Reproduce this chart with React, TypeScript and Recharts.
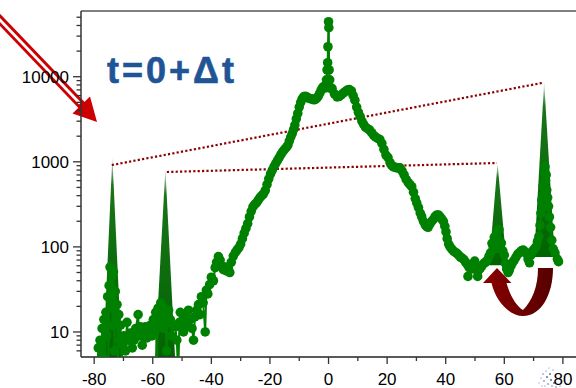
import { ComposedChart, XAxis, YAxis, ZAxis, Scatter, Area, ReferenceLine, Customized } from 'recharts'

// measured profile: angle (deg) vs counts
const scan: [number, number][] = [
  [-79.0, 3], [-78.6, 6.5], [-78.3, 4], [-78.0, 8], [-77.6, 3], [-77.3, 11], [-77.0, 5], [-76.7, 14],
  [-76.4, 3.5], [-76.0, 17], [-75.7, 9], [-75.4, 26], [-75.1, 4], [-74.9, 35], [-74.6, 58], [-74.3, 20],
  [-74.0, 45], [-73.7, 12], [-73.4, 51], [-73.1, 6], [-72.8, 30], [-72.5, 14], [-72.2, 21], [-71.9, 4],
  [-71.6, 16], [-71.3, 8], [-71.0, 12], [-70.6, 4.5], [-70.2, 7], [-69.8, 9], [-69.3, 6], [-68.8, 13],
  [-68.3, 8], [-67.6, 9.7], [-67.0, 6.5], [-66.4, 8], [-65.8, 11], [-65.0, 16], [-64.6, 9], [-64.2, 11.5],
  [-63.6, 7], [-63.0, 10], [-62.5, 11.5], [-62.0, 8.5], [-61.4, 10.5], [-60.8, 12], [-60.3, 9], [-59.8, 14],
  [-59.3, 10], [-59.0, 17], [-58.6, 4], [-58.2, 19], [-57.7, 13], [-57.3, 22], [-57.0, 15], [-56.6, 20],
  [-56.2, 11], [-55.7, 17], [-55.3, 6], [-55.0, 13], [-54.6, 18], [-54.0, 14], [-53.5, 9], [-53.0, 12],
  [-52.3, 11.5], [-51.8, 8], [-51.3, 3], [-50.9, 13], [-50.6, 17], [-50.2, 12], [-49.5, 10], [-49.0, 15],
  [-48.4, 12], [-47.8, 18], [-47.2, 14], [-46.6, 11], [-46.1, 8], [-45.6, 15], [-45.0, 18], [-44.4, 21],
  [-43.9, 16], [-43.4, 26], [-42.8, 22], [-42.1, 10], [-41.7, 31], [-41.2, 28], [-40.6, 36], [-40.0, 44],
  [-39.3, 40], [-38.7, 57], [-38.2, 66], [-37.6, 77], [-37.0, 70], [-36.5, 60], [-35.9, 54], [-35.3, 58],
  [-34.7, 52], [-34.2, 56], [-33.7, 50], [-33.2, 66], [-32.5, 78], [-31.8, 86], [-31.2, 92], [-30.6, 98],
  [-30.0, 108], [-29.4, 125], [-28.8, 145], [-28.2, 165], [-27.6, 188], [-27.0, 225], [-26.4, 262], [-25.8, 295],
  [-25.2, 315], [-24.6, 330], [-24.0, 355], [-23.4, 380], [-22.8, 400], [-22.2, 420], [-21.6, 460], [-21.0, 540],
  [-20.4, 630], [-19.8, 720], [-19.2, 800], [-18.6, 880], [-18.0, 960], [-17.4, 1040], [-16.8, 1130], [-16.2, 1230],
  [-15.6, 1320], [-15.0, 1400], [-14.4, 1480], [-13.9, 1560], [-13.4, 1750], [-12.9, 1950], [-12.4, 2150], [-11.9, 2400],
  [-11.5, 2700], [-11.0, 3200], [-10.5, 3700], [-10.0, 4400], [-9.5, 5000], [-9.0, 5500], [-8.5, 5800], [-8.0, 5900],
  [-7.5, 5800], [-7.0, 5650], [-6.5, 5550], [-6.0, 5500], [-5.5, 5450], [-5.0, 5350], [-4.5, 5400], [-4.0, 5600],
  [-3.5, 5900], [-3.0, 6400], [-2.5, 7000], [-2.0, 7500], [-1.5, 7700], [-1.0, 7400], [-0.7, 9200], [-0.5, 12000],
  [-0.3, 14600], [-0.2, 22500], [0.0, 44300], [0.1, 37700], [0.2, 12000], [0.4, 9200], [0.7, 7300], [1.2, 7300],
  [2.0, 6300], [2.9, 5800], [3.6, 5850], [4.3, 6100], [5.0, 6400], [5.7, 6700], [6.4, 6950], [7.1, 7050],
  [7.8, 6800], [8.4, 6000], [9.0, 5300], [9.6, 4400], [10.2, 3800], [10.8, 3400], [11.4, 3000], [12.0, 2750],
  [12.6, 2550], [13.3, 2450], [14.0, 2370], [14.7, 2200], [15.4, 2050], [16.1, 1950], [16.8, 1880], [17.5, 1830],
  [18.2, 1650], [18.9, 1400], [19.6, 1200], [20.3, 1120], [21.0, 980], [21.6, 900], [22.2, 870], [22.8, 860],
  [23.4, 850], [24.0, 840], [24.4, 850], [25.1, 780], [25.8, 700], [26.5, 620], [27.2, 570], [27.8, 540],
  [28.4, 510], [29.0, 440], [29.6, 370], [30.1, 330], [30.7, 290], [31.3, 250], [31.8, 226], [32.4, 200],
  [33.0, 182], [33.5, 173], [34.0, 170], [34.6, 185], [35.2, 200], [35.8, 210], [36.4, 228], [37.0, 237],
  [37.5, 237], [38.1, 225], [38.7, 212], [39.2, 200], [39.7, 175], [40.1, 150], [40.5, 125], [41.0, 108],
  [41.5, 100], [42.1, 94], [42.7, 89], [43.3, 86], [43.8, 84], [44.4, 80], [45.0, 76], [45.6, 74],
  [46.2, 71], [46.8, 66], [47.4, 62], [47.6, 45], [47.9, 58], [48.3, 57], [48.9, 55], [49.4, 62],
  [49.9, 68], [50.4, 54], [50.9, 45], [51.2, 53], [51.8, 56], [52.4, 60], [53.0, 64], [53.6, 66],
  [54.2, 70], [54.8, 78], [55.3, 85], [55.8, 110], [56.2, 100], [56.6, 130], [57.0, 95], [57.4, 150],
  [57.8, 120], [58.2, 160], [58.6, 105], [59.0, 111], [59.5, 90], [60.0, 80], [60.4, 64], [60.8, 55],
  [61.3, 50], [61.7, 53], [62.3, 60], [62.9, 66], [63.4, 70], [64.0, 76], [64.6, 82], [65.1, 85],
  [65.8, 90], [66.4, 92], [67.0, 88], [67.5, 84], [68.1, 72], [68.6, 65], [69.1, 80], [69.7, 90],
  [70.3, 95], [70.8, 100], [71.3, 115], [71.8, 132], [72.2, 180], [72.5, 250], [72.8, 355], [73.1, 300],
  [73.3, 520], [73.5, 420], [73.7, 740], [73.9, 880], [74.1, 600], [74.3, 700], [74.5, 465], [74.8, 380],
  [75.1, 300], [75.4, 225], [75.8, 170], [76.2, 120], [76.7, 95], [77.3, 85], [78.1, 72], [78.5, 67],
]

// Bragg peak markers: base edges, apex position and height
const peaks = [
  { left: -76.9, apex: -73.8, right: -70.6, base: 5.1, top: 1150 },
  { left: -59.2, apex: -55.7, right: -52.4, base: 5.1, top: 830 },
  { left: 54.8, apex: 57.7, right: 60.8, base: 61, top: 960 },
  { left: 70.2, apex: 73.6, right: 77.2, base: 76, top: 8700 },
]

// dotted guides joining the peak tips
const guides = [
  [{ x: -74.0, y: 916 }, { x: 72.9, y: 8450 }],
  [{ x: -55.2, y: 759 }, { x: 57.5, y: 968 }],
]

const X_MAJOR = [-80, -60, -40, -20, 0, 20, 40, 60, 80]
const X_TICKS = [-80, -70, -60, -50, -40, -30, -20, -10, 0, 10, 20, 30, 40, 50, 60, 70, 80]
const Y_MAJOR = [10, 100, 1000, 10000]
const Y_TICKS = [
  6, 7, 8, 9, 10, 20, 30, 40, 50, 60, 70, 80, 90, 100, 200, 300, 400, 500, 600, 700, 800, 900,
  1000, 2000, 3000, 4000, 5000, 6000, 7000, 8000, 9000, 10000, 20000, 30000, 40000, 50000,
]

// speckle left over around the last tick label
const speckle: [number, number, number][] = [
  [541, 378, 0.6], [543, 374, 0.7], [544, 381, 0.8], [546, 371, 0.6], [547, 377, 0.9], [548, 384, 0.8],
  [549, 368, 0.5], [550, 374, 0.9], [551, 380, 1], [552, 386, 0.7], [545, 386, 0.6], [539, 383, 0.5],
  [553, 370, 0.6], [554, 383, 0.9], [556, 387, 0.7], [558, 384, 0.6], [560, 386, 0.5], [542, 386, 0.5],
]

const FONT = '"Liberation Sans", Arial, sans-serif'

const scanData = scan.map(([x, y]) => ({ x, y }))
const peakData = peaks.map((p) => [
  { x: p.left, r: [p.base, p.base] },
  { x: p.apex, r: [p.base, p.top] },
  { x: p.right, r: [p.base, p.base] },
])

const YTick = (props: any) => {
  const { x, y, payload } = props
  const major = Y_MAJOR.includes(payload.value)
  return (
    <g>
      <line x1={x - (major ? 8 : 4.5)} x2={x} y1={y} y2={y} stroke="#333" strokeWidth={1.3} />
      {major && (
        <text x={x - 12} y={y + 6} textAnchor="end" fontSize={17} fontFamily={FONT} fill="#000">
          {payload.value}
        </text>
      )}
    </g>
  )
}

const XTick = (props: any) => {
  const { x, y, payload } = props
  const major = X_MAJOR.includes(payload.value)
  return (
    <g>
      <line x1={x} x2={x} y1={y} y2={y + (major ? 7 : 4)} stroke="#333" strokeWidth={1.3} />
      {major && (
        <text x={x} y={y + 28} textAnchor="middle" fontSize={17} fontFamily={FONT} fill="#000">
          {payload.value}
        </text>
      )}
    </g>
  )
}

const TopTick = (props: any) => {
  const { x, y } = props
  return <line x1={x} x2={x} y1={y} y2={y + 3.5} stroke="#777" strokeWidth={1.2} />
}

const Annotations = () => (
  <g>
    {/* incoming beam arrow */}
    <line x1={-10} y1={9.5} x2={82} y2={105.5} stroke="#cc0000" strokeWidth={8.5} />
    <line x1={-10} y1={9.5} x2={80} y2={103.5} stroke="#fff" strokeWidth={2.8} />
    <polygon points="97,122 90,96.5 72.5,113.5" fill="#cc0000" />
    <text
      x={107}
      y={83}
      fontSize={36}
      fontWeight="bold"
      fontFamily={FONT}
      fill="#1f5496"
      stroke="#1f5496"
      strokeWidth={0.6}
      letterSpacing={3}
    >
      t=0+Δt
    </text>
    {/* transfer arrow between the right-hand peaks */}
    <path
      d="M538,268 L553,268 C553,295 541,316 523,316 C510,316 496,302 491.5,283 L483,283 L497,268 L511.5,283 L506.5,283 C510,296 517,307 523,310 C532,301 538,287 538,268 Z"
      fill="url(#arrowRed)"
    />
    {speckle.map(([cx, cy, r], i) => (
      <circle key={i} cx={cx} cy={cy} r={r} fill="#1b2f7a" opacity={0.75} />
    ))}
  </g>
)

export default function App() {
  return (
    <div style={{ position: 'absolute', left: 0, top: 0, width: 576, height: 388, overflow: 'hidden', background: '#fff', fontFamily: FONT }}>
      <ComposedChart width={579} height={388} margin={{ top: 10, right: 0, bottom: 0, left: 0 }}>
        <defs>
          <linearGradient id="peakFill" x1="0" y1="0" x2="0" y2="1">
            <stop offset="0" stopColor="#006400" stopOpacity={0.15} />
            <stop offset="0.14" stopColor="#006400" stopOpacity={0.9} />
            <stop offset="1" stopColor="#006400" stopOpacity={1} />
          </linearGradient>
          <linearGradient id="arrowRed" x1="0" y1="0" x2="1" y2="0">
            <stop offset="0" stopColor="#8a0000" />
            <stop offset="1" stopColor="#560000" />
          </linearGradient>
        </defs>
        <XAxis
          xAxisId="top"
          orientation="top"
          type="number"
          dataKey="x"
          domain={[-84.5, 85.5]}
          ticks={X_TICKS}
          interval={0}
          height={1}
          tickSize={0}
          tickMargin={0}
          tickLine={false}
          tick={<TopTick />}
          axisLine={{ stroke: '#7f7f7f', strokeWidth: 2 }}
        />
        <XAxis
          type="number"
          dataKey="x"
          domain={[-84.5, 85.5]}
          allowDataOverflow
          ticks={X_TICKS}
          interval={0}
          height={31}
          tickSize={0}
          tickMargin={0}
          tickLine={false}
          tick={<XTick />}
          axisLine={{ stroke: '#222', strokeWidth: 1.3 }}
        />
        <YAxis
          dataKey="y"
          scale="log"
          domain={[5.08, 59200]}
          allowDataOverflow
          ticks={Y_TICKS}
          interval={0}
          width={81}
          tickSize={0}
          tickMargin={0}
          tickLine={false}
          tick={<YTick />}
          axisLine={{ stroke: '#333', strokeWidth: 1.5 }}
        />
        <ZAxis range={[72, 72]} />
        {peakData.map((d, i) => (
          <Area
            key={i}
            data={d}
            dataKey="r"
            type="linear"
            stroke="none"
            fill="url(#peakFill)"
            fillOpacity={1}
            dot={false}
            activeDot={false}
            isAnimationActive={false}
          />
        ))}
        <Scatter
          data={scanData}
          fill="#008000"
          line={{ stroke: '#008000', strokeWidth: 2 }}
          isAnimationActive={false}
        />
        {guides.map((seg, i) => (
          <ReferenceLine
            key={i}
            segment={seg}
            stroke="#8b0000"
            strokeWidth={2.2}
            strokeDasharray="2.2 2.2"
          />
        ))}
        <Customized component={<Annotations />} />
      </ComposedChart>
    </div>
  )
}
